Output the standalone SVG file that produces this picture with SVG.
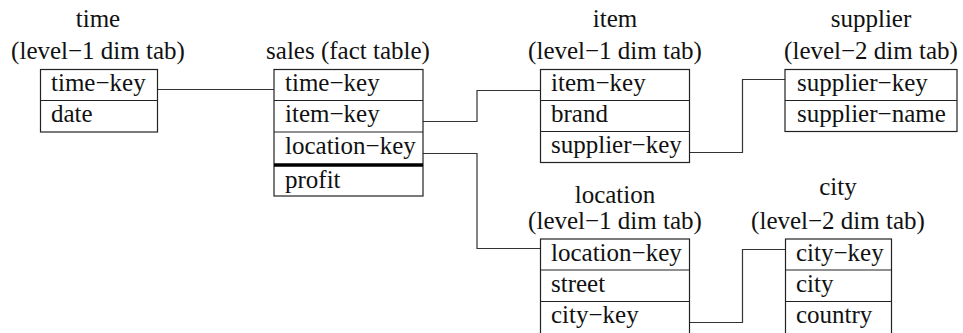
<svg xmlns="http://www.w3.org/2000/svg" width="963" height="333" viewBox="0 0 963 333">
  <style>
    text { font-family: "Liberation Serif", "Times New Roman", serif; font-size: 25px; fill: #111; }
    .head { text-anchor: middle; }
    .box { fill: #fff; stroke: #222; stroke-width: 1.2; }
    .sep { stroke: #222; stroke-width: 1.2; }
    .thick { stroke: #000; stroke-width: 3.4; }
    .link { fill: none; stroke: #333; stroke-width: 1.2; }
  </style>
  <rect width="963" height="333" fill="#fff"/>

  <!-- connectors between key columns -->
  <g id="connectors">
    <path class="link" d="M157.5 89.5 H274"/>
    <path class="link" d="M423 121.5 H477 V90.5 H540.5"/>
    <path class="link" d="M423 153.5 H477 V248.5 H540.5"/>
    <path class="link" d="M689.5 152.5 H742.5 V79.5 H785"/>
    <path class="link" d="M689.5 322.5 H742.5 V249.5 H785.5"/>
  </g>

  <g id="time">
    <text class="head" x="98" y="27">time</text>
    <text class="head" x="98" y="59">(level−1 dim tab)</text>
    <rect class="box" x="40.5" y="69.5" width="117" height="62.5"/>
    <line class="sep" x1="40.5" y1="100.5" x2="157.5" y2="100.5"/>
    <text x="51" y="91">time−key</text>
    <text x="51" y="122">date</text>
  </g>

  <g id="sales">
    <text class="head" x="348" y="59">sales (fact table)</text>
    <rect class="box" x="274" y="69.5" width="149" height="126.5"/>
    <line class="sep" x1="274" y1="100.5" x2="423" y2="100.5"/>
    <line class="sep" x1="274" y1="132" x2="423" y2="132"/>
    <line class="thick" x1="274" y1="165" x2="423" y2="165"/>
    <text x="285" y="91">time−key</text>
    <text x="285" y="122">item−key</text>
    <text x="285" y="154">location−key</text>
    <text x="285" y="188">profit</text>
  </g>

  <g id="item">
    <text class="head" x="615" y="27">item</text>
    <text class="head" x="615" y="59">(level−1 dim tab)</text>
    <rect class="box" x="540.5" y="69.5" width="149" height="93"/>
    <line class="sep" x1="540.5" y1="100.5" x2="689.5" y2="100.5"/>
    <line class="sep" x1="540.5" y1="131.5" x2="689.5" y2="131.5"/>
    <text x="551" y="91">item−key</text>
    <text x="551" y="122">brand</text>
    <text x="551" y="153">supplier−key</text>
  </g>

  <g id="supplier">
    <text class="head" x="871" y="27">supplier</text>
    <text class="head" x="871" y="59">(level−2 dim tab)</text>
    <rect class="box" x="785" y="69.5" width="172" height="62"/>
    <line class="sep" x1="785" y1="100.5" x2="957" y2="100.5"/>
    <text x="797" y="91">supplier−key</text>
    <text x="797" y="122">supplier−name</text>
  </g>

  <g id="location">
    <text class="head" x="615" y="203">location</text>
    <text class="head" x="615" y="229">(level−1 dim tab)</text>
    <rect class="box" x="540.5" y="239" width="149" height="95"/>
    <line class="sep" x1="540.5" y1="270" x2="689.5" y2="270"/>
    <line class="sep" x1="540.5" y1="301.5" x2="689.5" y2="301.5"/>
    <text x="551" y="261">location−key</text>
    <text x="551" y="292">street</text>
    <text x="551" y="323">city−key</text>
  </g>

  <g id="city">
    <text class="head" x="838" y="195">city</text>
    <text class="head" x="838" y="229">(level−2 dim tab)</text>
    <rect class="box" x="785.5" y="239" width="106" height="95"/>
    <line class="sep" x1="785.5" y1="270" x2="891.5" y2="270"/>
    <line class="sep" x1="785.5" y1="301.5" x2="891.5" y2="301.5"/>
    <text x="796" y="261">city−key</text>
    <text x="796" y="292">city</text>
    <text x="796" y="323">country</text>
  </g>
</svg>
